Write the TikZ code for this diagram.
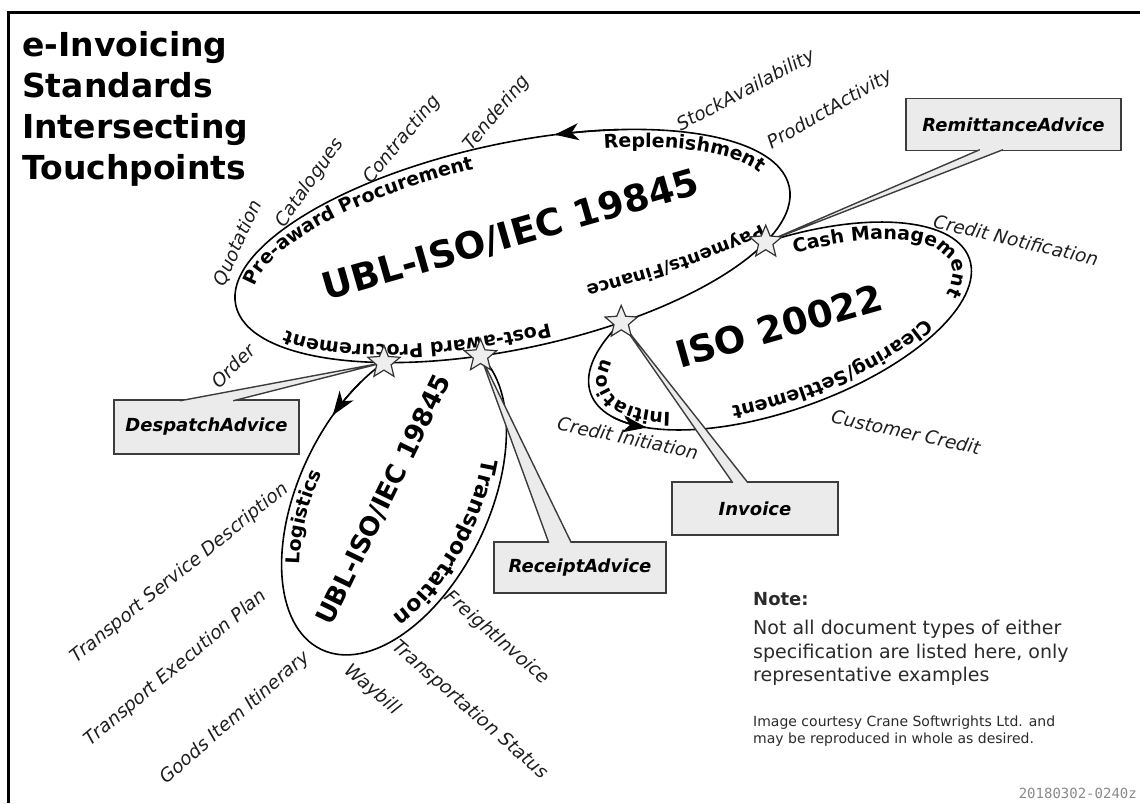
\documentclass[tikz,border=0pt]{standalone}
\usepackage{fontspec}
\setmainfont{DejaVu Sans}
\setmonofont{DejaVu Sans Mono}
\usetikzlibrary{shapes.geometric,intersections,calc,arrows.meta}

\pgfdeclarelayer{callouts}
\pgfdeclarelayer{marks}
\pgfsetlayers{main,callouts,marks}

\definecolor{boxfill}{HTML}{EBEBEB}
\definecolor{boxline}{HTML}{3C3C3C}
\definecolor{starfill}{HTML}{EEEEEE}
\definecolor{labelgrey}{HTML}{1E1E1E}
\definecolor{notegrey}{HTML}{2A2A2A}
\definecolor{stampgrey}{HTML}{8A8A8A}

% centre, semi-axes and tilt of the three standards ellipses
\def\Ux{512.5}\def\Uy{-246}\def\Ua{283}\def\Ub{102.7}\def\Ur{12.08}
\def\Ix{780}\def\Iy{-326}\def\Ia{201}\def\Ib{84}\def\Ir{19.6}
\def\Lx{394}\def\Ly{-498}\def\La{168}\def\Lb{95}\def\Lr{64.3}

% elliptic arc: centre x, centre y, radius a, radius b, tilt, start and end parameter angle
\newcommand\ellarc[7]{plot[domain=0:1,samples=40,smooth] ({#1+(#3)*cos((#6)+((#7)-(#6))*\x)*cos(#5)-(#4)*sin((#6)+((#7)-(#6))*\x)*sin(#5)},{#2+(#3)*cos((#6)+((#7)-(#6))*\x)*sin(#5)+(#4)*sin((#6)+((#7)-(#6))*\x)*cos(#5)})}

% text set clockwise along an ellipse, letter by letter, centred on a parameter angle
% (spaces in the text are written as ~)
\newdimen\ETw
\newbox\ETbox
\def\ETstop{ETstop}
\newcommand\ETmeasure[1]{%
  \pgfinterruptpicture\setbox\ETbox=\hbox{\ETfont #1}\global\ETw=\wd\ETbox\endpgfinterruptpicture}
\newcommand\ellipsetext[8]{%
  \def\ETcx{#1}\def\ETcy{#2}\pgfmathsetmacro\ETA{#3}\pgfmathsetmacro\ETB{#4}%
  \def\ETr{#5}\def\ETfont{#7}%
  \ETmeasure{#8}%
  \pgfmathsetmacro\ETW{\the\ETw}%
  \pgfmathsetmacro\ETsp{100*veclen(\ETA/100*sin(#6),\ETB/100*cos(#6))}%
  \pgfmathsetmacro\ETt{#6+0.25*\ETW/\ETsp*57.29578}%
  \pgfmathsetmacro\ETsp{100*veclen(\ETA/100*sin(\ETt),\ETB/100*cos(\ETt))}%
  \pgfmathsetmacro\ETt{#6+0.5*\ETW/\ETsp*57.29578}%
  \ETchars#8\ETstop}
\def\ETchars#1{\ifx#1\ETstop\else\ETplace{#1}\expandafter\ETchars\fi}
\newcommand\ETplace[1]{%
  \ifx~#1\ETmeasure{\ }\else\ETmeasure{#1}\fi
  \pgfmathsetmacro\ETwpt{\the\ETw}%
  \pgfmathsetmacro\ETsp{100*veclen(\ETA/100*sin(\ETt),\ETB/100*cos(\ETt))}%
  \pgfmathsetmacro\ETtm{\ETt-0.5*\ETwpt/\ETsp*57.29578}%
  \pgfmathsetmacro\ETsp{100*veclen(\ETA/100*sin(\ETtm),\ETB/100*cos(\ETtm))}%
  \pgfmathsetmacro\ETtm{\ETt-0.5*\ETwpt/\ETsp*57.29578}%
  \pgfmathsetmacro\ETx{\ETcx+\ETA*cos(\ETtm)*cos(\ETr)-\ETB*sin(\ETtm)*sin(\ETr)}%
  \pgfmathsetmacro\ETy{\ETcy+\ETA*cos(\ETtm)*sin(\ETr)+\ETB*sin(\ETtm)*cos(\ETr)}%
  \pgfmathsetmacro\ETdx{\ETA*sin(\ETtm)*cos(\ETr)+\ETB*cos(\ETtm)*sin(\ETr)}%
  \pgfmathsetmacro\ETdy{\ETA*sin(\ETtm)*sin(\ETr)-\ETB*cos(\ETtm)*cos(\ETr)}%
  \pgfmathsetmacro\ETang{atan2(\ETdy,\ETdx)}%
  \ifx~#1\else\node[inner sep=0pt, anchor=base, rotate=\ETang, font=\ETfont] at (\ETx,\ETy) {#1};\fi
  \pgfmathsetmacro\ETt{\ETt-\ETwpt/\ETsp*57.29578}}

\newcommand\plfont{\fontsize{19}{19}\selectfont\bfseries}
\newcommand\plfontsmall{\fontsize{18}{18}\selectfont\bfseries}
\newcommand\plfontlarge{\fontsize{22}{22}\selectfont\bfseries}

\tikzset{
  ellipseline/.style={draw=black, line width=1.6pt},
  arrowline/.style={-{Stealth[length=24pt,width=17pt,inset=7pt]}, line width=1.6pt},
  biglabel/.style={font=\fontsize{37}{40}\selectfont\bfseries, inner sep=0pt},
  doclabel/.style={font=\fontsize{18.5}{22}\selectfont\itshape, text=labelgrey, inner sep=0pt},
  callbox/.style={draw=boxline, fill=boxfill, line width=1.4pt, inner sep=0pt,
                  font=\fontsize{18}{20}\selectfont\bfseries\itshape},
  wedgeline/.style={draw=boxline, line width=1.4pt, line join=round},
  touchstar/.style={star, star points=5, star point ratio=2.25, minimum size=34pt,
                    inner sep=0pt, draw=black!80, fill=starfill, line width=1.2pt},
}

\begin{document}
\begin{tikzpicture}[x=1pt,y=1pt]
\useasboundingbox (0,0) rectangle (1140,-803);

% frame
\draw[line width=2.6pt] (8.5,-803) -- (8.5,-12.5) -- (1140,-12.5);

% heading
\node[anchor=north west, align=left, inner sep=0pt, font=\fontsize{33}{41}\selectfont\bfseries]
  (title) at (22,-31) {e-Invoicing\\Standards\\Intersecting\\Touchpoints};

% note and credits
\node[anchor=north west, inner sep=0pt, font=\fontsize{18}{20}\selectfont\bfseries, text=notegrey]
  (notehead) at (753,-592) {Note:};
\node[anchor=north west, align=left, inner sep=0pt, font=\fontsize{19}{23.5}\selectfont, text=notegrey]
  (notebody) at (753,-620) {Not all document types of either\\specification are listed here, only\\representative examples};
\node[anchor=north west, align=left, inner sep=0pt, font=\fontsize{14}{17}\selectfont, text=notegrey]
  (credit) at (753,-716) {Image courtesy Crane Softwrights Ltd. and\\may be reproduced in whole as desired.};
\node[anchor=south east, inner sep=0pt, font=\fontsize{14}{14}\selectfont\ttfamily, text=stampgrey]
  (stamp) at (1137,-799) {20180302-0240z};

% ISO 20022 and transport ellipses, then the main UBL ellipse over them
\draw[ellipseline, name path=iso, rotate around={\Ir:(\Ix,\Iy)}] (\Ix,\Iy) ellipse [x radius=\Ia, y radius=\Ib];
\draw[ellipseline, name path=log, rotate around={\Lr:(\Lx,\Ly)}] (\Lx,\Ly) ellipse [x radius=\La, y radius=\Lb];
\draw[ellipseline, fill=white, name path=ubl, rotate around={\Ur:(\Ux,\Uy)}] (\Ux,\Uy) ellipse [x radius=\Ua, y radius=\Ub];

% direction arrows on the ellipses
\draw[arrowline] \ellarc{\Ux}{\Uy}{\Ua}{\Ub}{\Ur}{63}{76.8};
\draw[arrowline] \ellarc{\Lx}{\Ly}{\La}{\Lb}{\Lr}{58}{73.4};
\draw[arrowline] \ellarc{\Ix}{\Iy}{\Ia}{\Ib}{\Ir}{201}{217.4};

% process names along the ellipses
\ellipsetext{\Ux}{\Uy}{\Ua-19}{\Ub-19}{\Ur}{127}{\plfont}{Pre-award~Procurement}
\ellipsetext{\Ux}{\Uy}{\Ua-19}{\Ub-19}{\Ur}{45}{\plfont}{Replenishment}
\ellipsetext{\Ux}{\Uy}{300}{55}{\Ur}{-58}{\plfontsmall}{Payments/Finance}
\ellipsetext{\Ux}{\Uy}{\Ua-19}{\Ub-19}{\Ur}{-115}{\plfont}{Post-award~Procurement}
\ellipsetext{\Ix}{\Iy}{\Ia-19}{\Ib-19}{\Ir}{44}{\plfont}{Cash~Management}
\ellipsetext{\Ix}{\Iy}{\Ia-19}{\Ib-19}{\Ir}{-78}{\plfont}{Clearing/Settlement}
\ellipsetext{\Ix}{\Iy}{\Ia-19}{\Ib-19}{\Ir}{-160}{\plfont}{Initiation}
\ellipsetext{\Lx}{\Ly}{\La-19}{\Lb-19}{\Lr}{112}{\plfont}{Logistics}
\ellipsetext{\Lx}{\Ly}{\La-22}{\Lb-22}{\Lr}{-96}{\plfontlarge}{Transportation}

% standard names
\node[biglabel, rotate=16, anchor=base] (ubl-name) at (514,-247) {UBL-ISO/IEC 19845};
\node[font=\fontsize{26}{28}\selectfont\bfseries, inner sep=0pt, rotate=64] (log-name) at (384,-500) {UBL-ISO/IEC 19845};
\node[biglabel, rotate=16] (iso-name) at (779,-326) {ISO 20022};

% touchpoints where the ellipses cross
\path[name intersections={of=ubl and iso, sort by=iso, name=ui}];
\path[name intersections={of=ubl and log, sort by=ubl, name=ul}];
\begin{pgfonlayer}{marks}
\node[touchstar] (st-remit) at (ui-1) {};
\node[touchstar] (st-inv) at (ui-2) {};
\node[touchstar] (st-desp) at (ul-1) {};
\node[touchstar] (st-rcpt) at (ul-2) {};
\end{pgfonlayer}

% callouts naming the shared documents
\begin{pgfonlayer}{callouts}
\node[callbox, minimum width=215pt, minimum height=52pt] (remit) at (1013.5,-124.5) {RemittanceAdvice};
\node[callbox, minimum width=166pt, minimum height=53pt] (invoice) at (755,-508.5) {Invoice};
\node[callbox, minimum width=172pt, minimum height=51pt] (receipt) at (580,-567.5) {ReceiptAdvice};
\node[callbox, minimum width=185pt, minimum height=54pt] (despatch) at (206.5,-427) {DespatchAdvice};

\coordinate (remit-a) at ($(remit.south west)!0.344!(remit.south east)+(0,1.5)$);
\coordinate (remit-b) at ($(remit.south west)!0.451!(remit.south east)+(0,1.5)$);
\coordinate (inv-a) at ($(invoice.north west)!0.367!(invoice.north east)+(0,-1.5)$);
\coordinate (inv-b) at ($(invoice.north west)!0.458!(invoice.north east)+(0,-1.5)$);
\coordinate (rcpt-a) at ($(receipt.north west)!0.32!(receipt.north east)+(0,-1.5)$);
\coordinate (rcpt-b) at ($(receipt.north west)!0.45!(receipt.north east)+(0,-1.5)$);
\coordinate (desp-a) at ($(despatch.north west)!0.357!(despatch.north east)+(0,-1.5)$);
\coordinate (desp-b) at ($(despatch.north west)!0.643!(despatch.north east)+(0,-1.5)$);

\fill[boxfill] (st-remit.center) -- (remit-a) -- (remit-b) -- cycle;
\draw[wedgeline] (remit-a) -- (st-remit.center) -- (remit-b);
\fill[boxfill] (st-inv.center) -- (inv-a) -- (inv-b) -- cycle;
\draw[wedgeline] (inv-a) -- (st-inv.center) -- (inv-b);
\fill[boxfill] (st-rcpt.center) -- (rcpt-a) -- (rcpt-b) -- cycle;
\draw[wedgeline] (rcpt-a) -- (st-rcpt.center) -- (rcpt-b);
\fill[boxfill] (st-desp.center) -- (desp-a) -- (desp-b) -- cycle;
\draw[wedgeline] (desp-a) -- (st-desp.center) -- (desp-b);
\end{pgfonlayer}

% document types
\node[doclabel, rotate=45] (l-order) at (233,-366) {Order};
\node[doclabel, rotate=66] (l-quot) at (238,-243) {Quotation};
\node[doclabel, rotate=55] (l-cat) at (310,-183) {Catalogues};
\node[doclabel, rotate=50] (l-con) at (402,-140) {Contracting};
\node[doclabel, rotate=50] (l-ten) at (497,-113) {Tendering};
\node[doclabel, rotate=28] (l-stock) at (746,-91) {StockAvailability};
\node[doclabel, rotate=30] (l-prod) at (830,-110) {ProductActivity};
\node[doclabel, rotate=-13] (l-cnot) at (1016,-240) {Credit Notification};
\node[doclabel, rotate=-12] (l-cust) at (906,-432) {Customer Credit};
\node[doclabel, rotate=-12] (l-cini) at (628,-438) {Credit Initiation};
\node[doclabel, rotate=39] (l-tsd) at (180,-573) {Transport Service Description};
\node[doclabel, rotate=40] (l-tep) at (176,-668) {Transport Execution Plan};
\node[doclabel, rotate=41] (l-gii) at (235,-718) {Goods Item Itinerary};
\node[doclabel, rotate=-40] (l-way) at (372,-690) {Waybill};
\node[doclabel, rotate=-41] (l-tst) at (470,-710) {Transportation Status};
\node[doclabel, rotate=-41] (l-fre) at (497,-638) {FreightInvoice};
\end{tikzpicture}
\end{document}
